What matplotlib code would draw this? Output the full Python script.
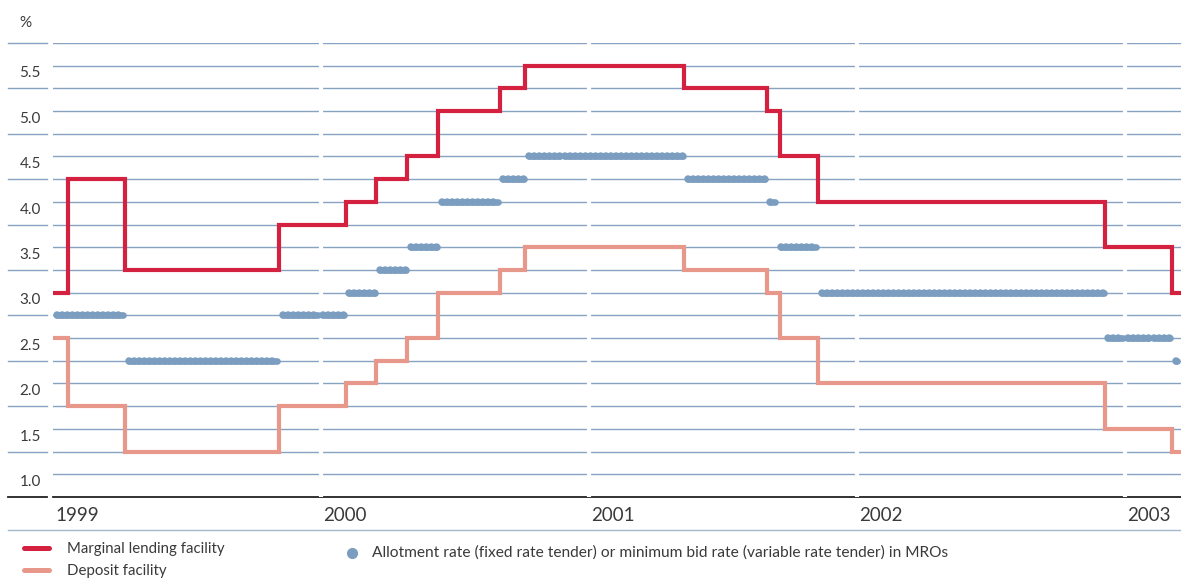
import numpy as np
import matplotlib
matplotlib.use('Agg')
import matplotlib.pyplot as plt
import matplotlib.transforms as mtransforms

plt.rcParams['font.family'] = ['Lato', 'DejaVu Sans']

# key ECB rates, change dates (rate valid from that date on)
change_dates = np.array(['1999-01-01', '1999-01-22', '1999-04-09', '1999-11-05',
                         '2000-02-04', '2000-03-17', '2000-04-28', '2000-06-09',
                         '2000-09-01', '2000-10-06', '2001-05-11', '2001-08-31',
                         '2001-09-18', '2001-11-09', '2002-12-06', '2003-03-07'],
                        dtype='datetime64[D]')
end_date = np.datetime64('2003-03-19')
marginal_lending = [3.25, 4.50, 3.50, 4.00, 4.25, 4.50, 4.75, 5.25,
                    5.50, 5.75, 5.50, 5.25, 4.75, 4.25, 3.75, 3.25]
deposit = [2.75, 2.00, 1.50, 2.00, 2.25, 2.50, 2.75, 3.25,
           3.50, 3.75, 3.50, 3.25, 2.75, 2.25, 1.75, 1.50]

# main refinancing operations: runs of weekly tenders (first, last, rate)
mro_start = np.array(['1999-01-07', '1999-04-14', '1999-11-10', '2000-01-04',
                      '2000-02-09', '2000-03-22', '2000-05-03', '2000-06-15',
                      '2000-09-06', '2000-10-11', '2000-11-29', '2001-05-16',
                      '2001-09-05', '2001-09-19', '2001-11-14', '2002-12-10',
                      '2003-01-06', '2003-02-10', '2003-03-12'], dtype='datetime64[D]')
mro_end = np.array(['1999-04-07', '1999-11-03', '1999-12-28', '2000-02-02',
                    '2000-03-15', '2000-04-26', '2000-06-07', '2000-08-30',
                    '2000-10-04', '2000-11-22', '2001-05-09', '2001-08-29',
                    '2001-09-12', '2001-11-07', '2002-12-04', '2002-12-30',
                    '2003-02-04', '2003-03-04', '2003-03-13'], dtype='datetime64[D]')
mro_rate = [3.00, 2.50, 3.00, 3.00, 3.25, 3.50, 3.75, 4.25, 4.50, 4.75, 4.75,
            4.50, 4.25, 3.75, 3.25, 2.75, 2.75, 2.75, 2.50]

years = ['1999', '2000', '2001', '2002', '2003']
y_labels = ['1.0', '1.5', '2.0', '2.5', '3.0', '3.5', '4.0', '4.5', '5.0', '5.5']

RED = '#d4213f'
PINK = '#e8978b'
DOTS = '#7b9dc0'
GRID = '#86a3c2'
TEXT = '#3a3a3a'

W, H = 1181, 580
fig = plt.figure(figsize=(W / 100, H / 100), dpi=100)
ax = fig.add_axes([53 / W, 83 / H, 1128 / W, 454 / H])
ax.set_xlim(np.datetime64('1999-01-01'), end_date)
ax.set_ylim(1.0, 6.0)
ax.set_axis_off()

trans_y = mtransforms.blended_transform_factory(ax.transAxes, ax.transData)
trans_x = mtransforms.blended_transform_factory(ax.transData, ax.transAxes)

# grid lines every 0.25, half points also run out under the labels
for v in np.arange(1.25, 6.01, 0.25):
    ax.axhline(v, color=GRID, lw=1.0, zorder=1)
for v in np.arange(1.0, 6.01, 0.5):
    c = '#222222' if v == 1.0 else GRID
    ax.plot([-0.0399, -0.0053], [v, v], color=c, lw=1.0 if v > 1 else 1.3,
            transform=trans_y, clip_on=False, zorder=1)
ax.axhline(1.0, color='#222222', lw=1.3, zorder=1, clip_on=False)

# white gaps at the year boundaries
for yr in years[1:]:
    ax.axvline(np.datetime64(yr + '-01-01'), color='white', lw=3.0, zorder=1.5)

for lab in y_labels:
    ax.text(-0.0204, float(lab) + 0.165, lab, transform=trans_y, ha='center',
            va='center', fontsize=11, color=TEXT)
ax.text(-0.024, 6.22, '%', transform=trans_y, ha='center', va='center',
        fontsize=11, color=TEXT)

for yr in years:
    ax.text(np.datetime64(yr + '-01-04'), -0.04, yr, transform=trans_x,
            ha='left', va='center', fontsize=13.5, color=TEXT)

# step lines
dates_ext = np.append(change_dates, end_date)
ax.step(dates_ext, marginal_lending + [marginal_lending[-1]], where='post',
        color=RED, lw=3.0, solid_joinstyle='miter', zorder=3)
ax.step(dates_ext, deposit + [deposit[-1]], where='post',
        color=PINK, lw=3.0, solid_joinstyle='miter', zorder=3)

# MRO tenders as chains of dots: rounded bar plus dot pattern on top
for s, e, r in zip(mro_start, mro_end, mro_rate):
    ax.plot([s, e], [r, r], color=DOTS, lw=4.8, solid_capstyle='round', zorder=2.5)
    ax.plot([s, e], [r, r], color=DOTS, lw=5.4, linestyle=(0, (0.001, 0.68)),
            dash_capstyle='round', zorder=2.6)

# legend area
def fx(px):
    return px / W

def fy(py):
    return 1 - py / H

fig.add_artist(plt.Line2D([fx(8), fx(1181)], [fy(530), fy(530)], color='#a3b8cc', lw=1.0))
fig.add_artist(plt.Line2D([fx(24), fx(49)], [fy(548), fy(548)], color=RED, lw=3.6,
                          solid_capstyle='round'))
fig.add_artist(plt.Line2D([fx(24), fx(49)], [fy(570), fy(570)], color=PINK, lw=3.6,
                          solid_capstyle='round'))
fig.text(fx(67), fy(549), 'Marginal lending facility', ha='left', va='center',
         fontsize=10.8, color=TEXT)
fig.text(fx(67), fy(571), 'Deposit facility', ha='left', va='center',
         fontsize=10.8, color=TEXT)
fig.add_artist(plt.Line2D([fx(352)], [fy(553)], marker='o', markersize=7,
                          color=DOTS, lw=0))
fig.text(fx(372), fy(553),
         'Allotment rate (fixed rate tender) or minimum bid rate (variable rate tender) in MROs',
         ha='left', va='center', fontsize=11.2, color=TEXT)

fig.savefig('out.png', dpi=100)
